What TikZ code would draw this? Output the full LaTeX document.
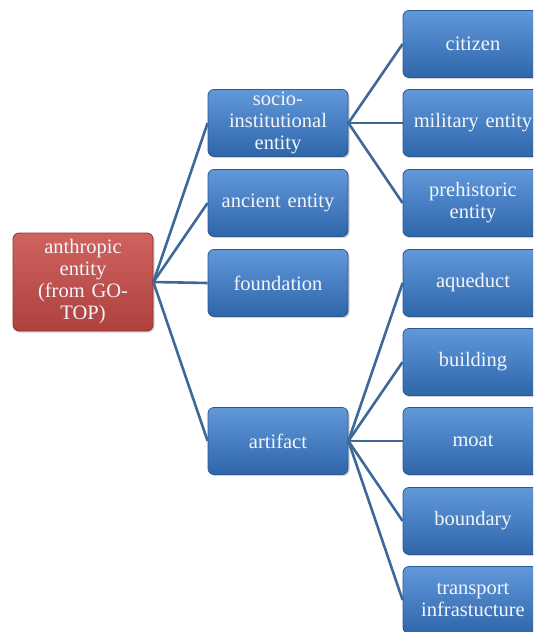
\documentclass[tikz,border=0pt]{standalone}
\usepackage{fontspec}
\setmainfont{Liberation Serif}
\newfontfamily\boxfont{Liberation Serif}
\usetikzlibrary{shadows}
\definecolor{bluetop}{HTML}{6198DA}
\definecolor{bluemid}{HTML}{3E78BF}
\definecolor{bluebot}{HTML}{2F66AA}
\definecolor{blueedge}{HTML}{2A5890}
\definecolor{redtop}{HTML}{D0625F}
\definecolor{redmid}{HTML}{C0504D}
\definecolor{redbot}{HTML}{AE403D}
\definecolor{rededge}{HTML}{8A3533}
\definecolor{linkcol}{HTML}{3D6898}
\definecolor{boxtext}{HTML}{F2F6FC}
\tikzset{
  box/.style={rectangle, rounded corners=6pt, minimum width=140pt, minimum height=67pt,
    text width=140pt, align=center, inner sep=0pt, text=boxtext,
    font=\boxfont\fontsize{20.5pt}{22pt}\selectfont, line width=0.8pt,
    drop shadow={shadow xshift=1.5pt, shadow yshift=-1.5pt, opacity=0.35}},
  bluebox/.style={box, draw=blueedge, top color=bluetop, middle color=bluemid, bottom color=bluebot},
  redbox/.style={box, draw=rededge, top color=redtop, middle color=redmid, bottom color=redbot, minimum height=98pt},
  link/.style={draw=linkcol, line width=2.6pt}
}
\begin{document}
\begin{tikzpicture}[x=1pt,y=1pt]
\useasboundingbox (0,0) rectangle (533,-632);
\clip (0,0) rectangle (533,-632);
\node[redbox] (root) at (83,-282) {anthropic\\entity\\(from GO-\\TOP)};
\node[bluebox] (socio) at (278,-123) {socio-\\institutional\\entity};
\node[bluebox] (ancient) at (278,-203) {ancient entity};
\node[bluebox] (found) at (278,-283) {foundation};
\node[bluebox] (artifact) at (278,-441) {artifact};
\node[bluebox] (citizen) at (473,-44) {citizen};
\node[bluebox] (military) at (473,-123) {military entity};
\node[bluebox] (prehist) at (473,-203) {prehistoric\\entity};
\node[bluebox] (aqueduct) at (473,-283) {aqueduct};
\node[bluebox] (building) at (473,-362) {building};
\node[bluebox] (moat) at (473,-441) {moat};
\node[bluebox] (boundary) at (473,-521) {boundary};
\node[bluebox] (transport) at (473,-600) {transport\\infrastucture};
\foreach \c in {socio,ancient,found,artifact}
  \draw[link] (root.east) -- (\c.west);
\foreach \c in {citizen,military,prehist}
  \draw[link] (socio.east) -- (\c.west);
\foreach \c in {aqueduct,building,moat,boundary,transport}
  \draw[link] (artifact.east) -- (\c.west);
\end{tikzpicture}
\end{document}
